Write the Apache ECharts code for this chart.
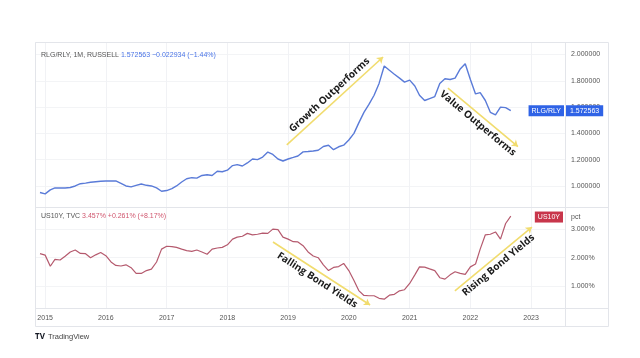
<!DOCTYPE html>
<html><head><meta charset="utf-8">
<script src="https://cdn.jsdelivr.net/npm/echarts@6/dist/echarts.min.js"></script>
<style>html,body{margin:0;padding:0;background:#fff;}#c{width:640px;height:358px;}</style>
</head><body><div id="c"></div>
<script>
const months = [
'2014-12',
'2015-01','2015-02','2015-03','2015-04','2015-05','2015-06','2015-07','2015-08','2015-09','2015-10','2015-11','2015-12',
'2016-01','2016-02','2016-03','2016-04','2016-05','2016-06','2016-07','2016-08','2016-09','2016-10','2016-11','2016-12',
'2017-01','2017-02','2017-03','2017-04','2017-05','2017-06','2017-07','2017-08','2017-09','2017-10','2017-11','2017-12',
'2018-01','2018-02','2018-03','2018-04','2018-05','2018-06','2018-07','2018-08','2018-09','2018-10','2018-11','2018-12',
'2019-01','2019-02','2019-03','2019-04','2019-05','2019-06','2019-07','2019-08','2019-09','2019-10','2019-11','2019-12',
'2020-01','2020-02','2020-03','2020-04','2020-05','2020-06','2020-07','2020-08','2020-09','2020-10','2020-11','2020-12',
'2021-01','2021-02','2021-03','2021-04','2021-05','2021-06','2021-07','2021-08','2021-09','2021-10','2021-11','2021-12',
'2022-01','2022-02','2022-03','2022-04','2022-05','2022-06','2022-07','2022-08','2022-09'
];
const rlgRly = [
0.950,
0.940,0.970,0.985,0.985,0.985,0.988,1.000,1.017,1.022,1.028,1.032,1.036,
1.038,1.038,1.038,1.020,1.000,0.993,1.005,1.015,1.005,1.000,0.985,0.960,
0.965,0.980,1.000,1.030,1.055,1.063,1.060,1.080,1.085,1.080,1.112,1.108,
1.120,1.155,1.162,1.152,1.175,1.205,1.200,1.220,1.258,1.240,1.205,1.190,
1.205,1.217,1.228,1.259,1.262,1.266,1.272,1.300,1.310,1.276,1.298,1.310,
1.350,1.400,1.480,1.560,1.620,1.690,1.780,1.913,1.880,1.850,1.820,1.790,
1.805,1.760,1.690,1.650,1.665,1.680,1.780,1.815,1.810,1.820,1.890,1.930,
1.810,1.700,1.710,1.650,1.560,1.540,1.600,1.5955,1.572563
];
const us10y = [
2.14,
2.09,1.70,1.94,1.92,2.05,2.20,2.27,2.15,2.14,2.00,2.10,2.18,
2.07,1.85,1.73,1.71,1.75,1.65,1.45,1.45,1.55,1.60,1.85,2.30,
2.40,2.39,2.36,2.30,2.25,2.22,2.27,2.20,2.12,2.30,2.34,2.36,
2.45,2.65,2.72,2.75,2.85,2.80,2.82,2.86,2.85,3.00,2.98,2.72,
2.65,2.56,2.55,2.42,2.20,2.06,2.00,1.75,1.55,1.66,1.69,1.80,
1.55,1.20,0.85,0.68,0.67,0.67,0.58,0.55,0.69,0.72,0.84,0.88,
1.10,1.40,1.68,1.67,1.61,1.55,1.30,1.25,1.40,1.51,1.45,1.42,
1.68,1.78,2.30,2.80,2.82,2.90,2.65,3.196,3.457
];
const rlgTicks = [1.0,1.2,1.4,1.6,1.8,2.0];
const pctTicks = [1,2,3];
const yearLabels = ['2015','2016','2017','2018','2019','2020','2021','2022','2023'];
const topAnnotations = [
  {text:'Growth Outperforms', from:['2018-12-24',1.312], to:['2020-07-25',1.981], pos:'insideMiddleTop'},
  {text:'Value Outperforms', from:['2021-08-19',1.745], to:['2022-10-14',1.300], pos:'insideMiddleBottom'}
];
const bottomAnnotations = [
  {text:'Falling Bond Yields', from:['2018-10-02',2.549], to:['2020-05-08',0.346], pos:'insideMiddleBottom'},
  {text:'Rising Bond Yields', from:['2021-09-30',0.836], to:['2023-01-06',3.073], pos:'insideMiddleBottom'}
];

const dt = s => +new Date(s.length === 7 ? s + '-01T00:00:00' : s + 'T00:00:00');
const FONT = 'Open Sans';
const SMALL = 'Liberation Sans';
const xMin = dt('2014-11-01'), xMax = dt('2023-07-24');
const YEAR = 365.25 * 86400000;

function annLines(list) {
  return {
    silent: true,
    symbol: ['none', 'arrow'],
    symbolSize: 6,
    lineStyle: {color: '#f1dc6e', width: 1.6, type: 'solid'},
    label: {show: true, color: '#1a1a1a', fontWeight: 'bold', fontSize: 10, fontFamily: FONT, distance: 3},
    emphasis: {disabled: true},
    data: list.map(a => [
      {coord: [dt(a.from[0]), a.from[1]], label: {formatter: a.text, position: a.pos}},
      {coord: [dt(a.to[0]), a.to[1]]}
    ])
  };
}

const chart = echarts.init(document.getElementById('c'), null, {renderer: 'canvas'});
const xCommon = {
  type: 'time', min: xMin, max: xMax,
  minInterval: YEAR * 0.98, maxInterval: YEAR * 1.02,
  axisLine: {show: false}, axisTick: {show: false},
  splitLine: {show: true, lineStyle: {color: '#f1f2f5', width: 1}}
};
const hdr = (c) => ({color: c, fontSize: 7, fontFamily: SMALL, fontWeight: 'normal'});
chart.setOption({
  animation: false,
  title: [
    {left: 41, top: 52, padding: 0, text: '{a|RLG/RLY, 1M, RUSSELL} {b|1.572563} {b|\u22120.022934 (\u22121.44%)}',
     textStyle: {fontWeight: 'normal', fontSize: 7, rich: {a: hdr('#555'), b: hdr('#4a74e6')}}},
    {left: 41, top: 213, padding: 0, text: '{a|US10Y, TVC} {b|3.457%} {b|+0.261% (+8.17%)}',
     textStyle: {fontWeight: 'normal', fontSize: 7, rich: {a: hdr('#555'), b: hdr('#d0566e')}}}
  ],
  grid: [
    {left: 35, right: 75, top: 42, height: 165},
    {left: 35, right: 75, top: 207, height: 101}
  ],
  xAxis: [
    Object.assign({gridIndex: 0, axisLabel: {show: false}}, xCommon),
    Object.assign({gridIndex: 1, axisLabel: {show: true, color: '#555', fontSize: 7, fontFamily: SMALL, margin: 7,
      showMinLabel: false, showMaxLabel: false,
      formatter: v => { const y = String(new Date(v).getFullYear()); return yearLabels.includes(y) ? y : ''; }}}, xCommon)
  ],
  yAxis: [
    {gridIndex: 0, type: 'value', position: 'right', min: 0.84, max: 2.095, splitNumber: 6,
     axisLine: {show: false}, axisTick: {show: false},
     splitLine: {show: true, lineStyle: {color: '#f3f4f6'}},
     axisLabel: {color: '#555', fontSize: 7, fontFamily: SMALL, margin: 6, showMinLabel: false, showMaxLabel: false,
       formatter: v => rlgTicks.some(t => Math.abs(t - v) < 1e-6) ? v.toFixed(6) : ''}},
    {gridIndex: 1, type: 'value', position: 'right', min: 0.241, max: 3.773, splitNumber: 4,
     axisLine: {show: false}, axisTick: {show: false},
     splitLine: {show: true, lineStyle: {color: '#f3f4f6'}},
     axisLabel: {color: '#555', fontSize: 7, fontFamily: SMALL, margin: 6, showMinLabel: false, showMaxLabel: false,
       formatter: v => pctTicks.some(t => Math.abs(t - v) < 1e-6) ? v.toFixed(3) + '%' : ''}}
  ],
  series: [
    {type: 'line', xAxisIndex: 0, yAxisIndex: 0, showSymbol: false, symbol: 'none',
     data: months.map((m, i) => [dt(m), rlgRly[i]]),
     lineStyle: {color: '#5a7bd8', width: 1.4}, itemStyle: {color: '#5a7bd8'},
     markLine: annLines(topAnnotations)},
    {type: 'line', xAxisIndex: 1, yAxisIndex: 1, showSymbol: false, symbol: 'none',
     data: months.map((m, i) => [dt(m), us10y[i]]),
     lineStyle: {color: '#b55a6e', width: 1.2}, itemStyle: {color: '#b55a6e'},
     markLine: annLines(bottomAnnotations)}
  ]
});

// frame and price tags placed via the chart's own scales
const lastI = months.length - 1;
const pTop = chart.convertToPixel({gridIndex: 0}, [dt(months[lastI]), rlgRly[lastI]]);
const pBot = chart.convertToPixel({gridIndex: 1}, [dt(months[lastI]), us10y[lastI]]);
const sepX = Math.round(chart.convertToPixel({xAxisIndex: 0}, xMax));
const g0 = chart.getModel().getComponent('grid', 0).coordinateSystem.getRect();
const g1 = chart.getModel().getComponent('grid', 1).coordinateSystem.getRect();
const L = g0.x, T = g0.y, R = 608, B = 326, midY = g1.y, botY = g1.y + g1.height;
const lineStyle = {stroke: '#e3e5ea', lineWidth: 1};
const ln = (x1, y1, x2, y2) => ({type: 'line', silent: true, z: 50, shape: {x1, y1, x2, y2}, style: lineStyle});
chart.setOption({
  graphic: [
    {type: 'rect', silent: true, z: 50, shape: {x: L + 0.5, y: T + 0.5, width: R - L, height: B - T}, style: {fill: 'none', stroke: '#e3e5ea', lineWidth: 1}},
    ln(sepX + 0.5, T, sepX + 0.5, B),
    ln(L, midY + 0.5, R, midY + 0.5),
    ln(L, botY + 0.5, R, botY + 0.5),
    {type: 'text', z: 60, x: sepX - 1, y: pTop[1], style: {text: 'RLG/RLY', fill: '#fff', fontSize: 7, fontFamily: SMALL,
      align: 'right', verticalAlign: 'middle', backgroundColor: '#2f63e6', padding: [2, 3, 2, 3]}},
    {type: 'text', z: 60, x: sepX + 1, y: pTop[1], style: {text: rlgRly[lastI].toFixed(6), fill: '#fff', fontSize: 7, fontFamily: SMALL,
      align: 'left', verticalAlign: 'middle', backgroundColor: '#2f63e6', padding: [2, 4, 2, 4]}},
    {type: 'text', z: 60, x: sepX - 2, y: pBot[1] + 1, style: {text: 'US10Y', fill: '#fff', fontSize: 7, fontFamily: SMALL,
      align: 'right', verticalAlign: 'middle', backgroundColor: '#c8364b', padding: [2, 3, 2, 3]}},
    {type: 'text', z: 60, x: sepX + 6, y: pBot[1] + 1, style: {text: 'pct', fill: '#555', fontSize: 7, fontFamily: SMALL,
      align: 'left', verticalAlign: 'middle'}},
    {type: 'text', z: 60, x: 35, y: 337, style: {text: 'TV', fill: '#131722', fontSize: 8, fontWeight: 'bold', fontFamily: FONT, verticalAlign: 'middle'}},
    {type: 'text', z: 60, x: 48, y: 337, style: {text: 'TradingView', fill: '#444', fontSize: 7.5, fontFamily: SMALL, verticalAlign: 'middle'}}
  ]
});
</script></body></html>
